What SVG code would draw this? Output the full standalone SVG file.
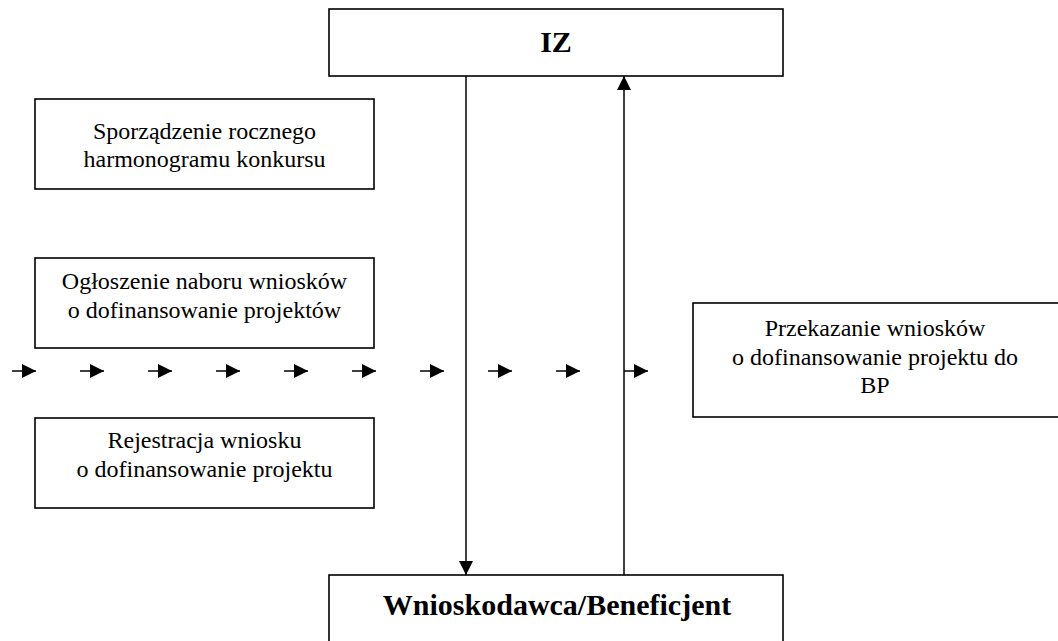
<svg xmlns="http://www.w3.org/2000/svg" width="1058" height="641" viewBox="0 0 1058 641">
<defs>
<style>
.box{fill:#fff;stroke:#000;stroke-width:1.6}
.t{font-family:"Liberation Serif","Times New Roman",serif;font-size:24px;fill:#000;text-anchor:middle}
.b{font-family:"Liberation Serif","Times New Roman",serif;font-size:30px;font-weight:bold;fill:#000;text-anchor:middle}
.ln{stroke:#000;stroke-width:1.5;fill:none}
</style>
<marker id="ah" viewBox="0 0 14 14" refX="14" refY="7" markerWidth="14" markerHeight="14" markerUnits="userSpaceOnUse" orient="auto">
<path d="M0,0 L14,7 L0,14 Z" fill="#000"/>
</marker>
<g id="sa"><line x1="0" y1="0" x2="12" y2="0" class="ln" marker-end="url(#ah)" transform="translate(0,0)"/></g>
</defs>
<rect width="1058" height="641" fill="#fff"/>
<g id="iz"><rect class="box" x="329" y="9" width="454" height="67"/><text class="b" x="556" y="52">IZ</text></g>
<g id="harmonogram"><rect class="box" x="35" y="99" width="339" height="90"/><text class="t" x="204.5" y="139">Sporządzenie rocznego</text><text class="t" x="204.5" y="167">harmonogramu konkursu</text></g>
<g id="nabor"><rect class="box" x="35" y="258" width="339" height="90"/><text class="t" x="204.5" y="289">Ogłoszenie naboru wniosków</text><text class="t" x="204.5" y="318">o dofinansowanie projektów</text></g>
<g id="rejestracja"><rect class="box" x="35" y="418" width="339" height="90"/><text class="t" x="204.5" y="448">Rejestracja wniosku</text><text class="t" x="204.5" y="477">o dofinansowanie projektu</text></g>
<g id="przekazanie"><rect class="box" x="693" y="303" width="370" height="114"/><text class="t" x="875" y="336">Przekazanie wniosków</text><text class="t" x="875" y="364.5">o dofinansowanie projektu do</text><text class="t" x="875" y="393">BP</text></g>
<g id="wnioskodawca"><rect class="box" x="329" y="575" width="454" height="80"/><text class="b" x="557" y="615">Wnioskodawca/Beneficjent</text></g>
<g id="connectors">
<line class="ln" x1="466" y1="76" x2="466" y2="575" marker-end="url(#ah)"/>
<line class="ln" x1="624" y1="575" x2="624" y2="76" marker-end="url(#ah)"/>
<line class="ln" x1="12" y1="371" x2="36" y2="371" marker-end="url(#ah)"/>
<line class="ln" x1="80" y1="371" x2="104" y2="371" marker-end="url(#ah)"/>
<line class="ln" x1="148" y1="371" x2="172" y2="371" marker-end="url(#ah)"/>
<line class="ln" x1="216" y1="371" x2="240" y2="371" marker-end="url(#ah)"/>
<line class="ln" x1="284" y1="371" x2="308" y2="371" marker-end="url(#ah)"/>
<line class="ln" x1="352" y1="371" x2="376" y2="371" marker-end="url(#ah)"/>
<line class="ln" x1="420" y1="371" x2="444" y2="371" marker-end="url(#ah)"/>
<line class="ln" x1="488" y1="371" x2="512" y2="371" marker-end="url(#ah)"/>
<line class="ln" x1="556" y1="371" x2="580" y2="371" marker-end="url(#ah)"/>
<line class="ln" x1="624" y1="371" x2="648" y2="371" marker-end="url(#ah)"/>
</g>
</svg>
